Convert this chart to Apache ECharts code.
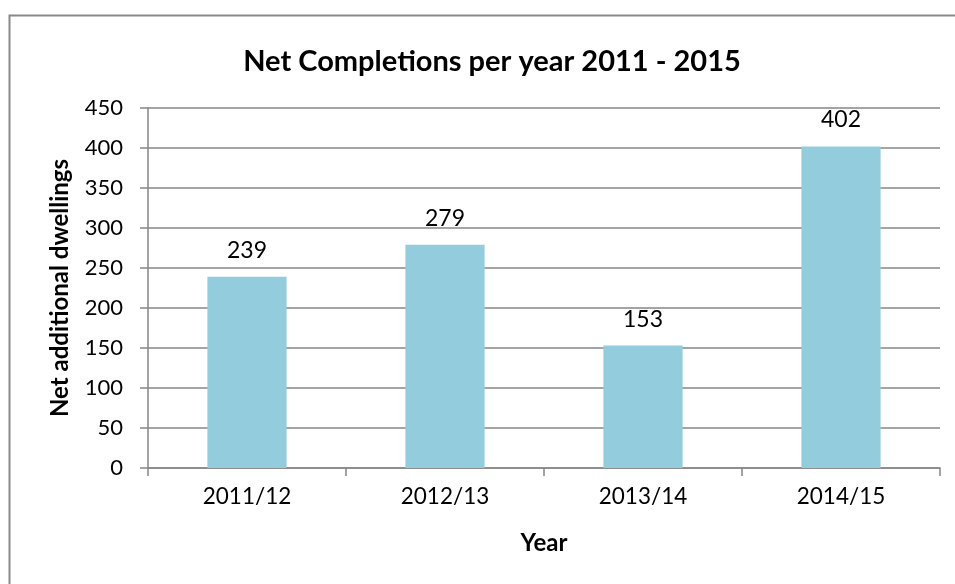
<!DOCTYPE html>
<html>
<head>
<meta charset="utf-8">
<script src="https://cdn.jsdelivr.net/npm/echarts@6/dist/echarts.min.js"></script>
<style>
  html, body { margin: 0; padding: 0; background: #fff; }
  #chart { width: 955px; height: 584px; }
</style>
</head>
<body>
<div id="chart"></div>
<script>
// Net completions by monitoring year
const years = ['2011/12', '2012/13', '2013/14', '2014/15'];
const netCompletions = [239, 279, 153, 402];
const yTicks = [0, 50, 100, 150, 200, 250, 300, 350, 400, 450];

const font = 'Lato, "Open Sans", sans-serif';
const chart = echarts.init(document.getElementById('chart'));

chart.setOption({
  animation: false,
  backgroundColor: '#fff',
  graphic: [{
    // chart-area frame (runs past the right and bottom edges of the canvas)
    type: 'rect',
    shape: { x: 9.5, y: 15.5, width: 1000, height: 620 },
    style: { fill: 'none', stroke: '#898989', lineWidth: 2 },
    silent: true
  }],
  title: {
    text: 'Net Completions per year 2011 - 2015',
    left: 487,
    top: 42,
    textAlign: 'center',
    textStyle: { fontFamily: font, fontWeight: 'bold', fontSize: 29, color: '#000' }
  },
  grid: { left: 148, right: 15, top: 108, bottom: 116, containLabel: false },
  xAxis: {
    type: 'category',
    data: years,
    name: 'Year',
    nameLocation: 'middle',
    nameGap: 63,
    nameTextStyle: { fontFamily: font, fontWeight: 'bold', fontSize: 24, color: '#000' },
    axisLine: { lineStyle: { color: '#868686', width: 1.5 } },
    axisTick: { show: true, length: 8, alignWithLabel: false, lineStyle: { color: '#868686', width: 1.5 } },
    axisLabel: { fontFamily: font, fontSize: 22.5, color: '#000', margin: 17 }
  },
  yAxis: {
    type: 'value',
    min: yTicks[0],
    max: yTicks[yTicks.length - 1],
    interval: yTicks[1] - yTicks[0],
    name: 'Net additional dwellings',
    nameLocation: 'middle',
    nameGap: 76,
    nameRotate: 90,
    nameTextStyle: { fontFamily: font, fontWeight: 'bold', fontSize: 24, color: '#000' },
    axisLine: { show: true, lineStyle: { color: '#868686', width: 1.5 } },
    axisTick: { show: true, length: 8, inside: false, lineStyle: { color: '#868686', width: 1.5 } },
    axisLabel: { fontFamily: font, fontSize: 22, color: '#000', margin: 25 },
    splitLine: { show: true, lineStyle: { color: '#868686', width: 1.5 } }
  },
  series: [{
    type: 'bar',
    data: netCompletions,
    barWidth: '40%',
    itemStyle: { color: '#93CDDD' },
    label: {
      show: true,
      position: 'top',
      distance: 15,
      fontFamily: font,
      fontSize: 23,
      color: '#000'
    }
  }]
});
</script>
</body>
</html>
